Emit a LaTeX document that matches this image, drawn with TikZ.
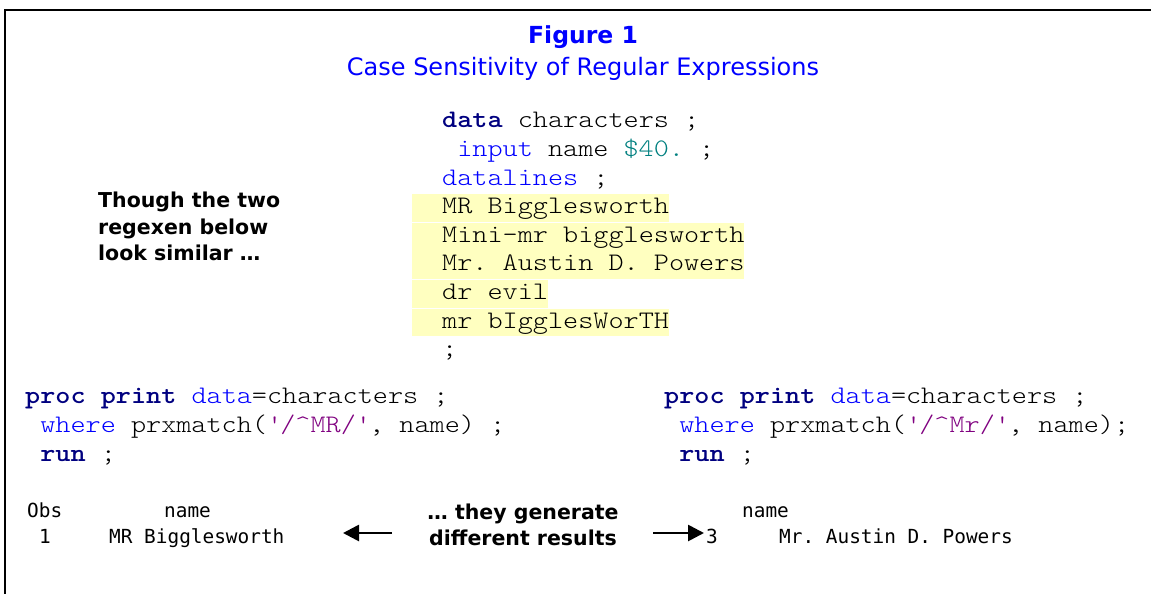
\documentclass[tikz,border=0pt]{standalone}
\usepackage{fontspec}
\setmainfont{DejaVu Sans}
\newfontfamily\codefont{lmmonolt10-regular}[Extension=.otf, BoldFont=lmmonolt10-bold, FakeStretch=1.142857]
\newfontfamily\outfont{DejaVu Sans Mono}
\usetikzlibrary{arrows.meta}
\definecolor{sasnavy}{HTML}{000080}
\definecolor{sasblue}{HTML}{0000FF}
\definecolor{sasteal}{HTML}{008080}
\definecolor{saspurple}{HTML}{800080}
\definecolor{hilite}{HTML}{FFFFC0}
\newcommand{\kw}[1]{\textcolor{sasnavy}{\bfseries #1}}
\newcommand{\bl}[1]{\textcolor{sasblue}{#1}}
\newcommand{\tl}[1]{\textcolor{sasteal}{#1}}
\newcommand{\pu}[1]{\textcolor{saspurple}{#1}}
\newcommand{\q}{\textquotesingle}
\frenchspacing
\begin{document}
\begin{tikzpicture}[x=1pt,y=-1pt,
  code/.style={anchor=base west, inner sep=0pt, font=\codefont\fontsize{25.2}{28}\selectfont},
  outtxt/.style={anchor=base west, inner sep=0pt, font=\outfont\fontsize{19.4}{24}\selectfont},
  note/.style={inner sep=0pt, font=\bfseries\fontsize{20.5}{26}\selectfont},
  hl/.style={fill=hilite, draw=none},
  frame/.style={line width=2.5pt, line cap=rect},
  resarrow/.style={line width=2.7pt, -{Triangle[length=16pt,width=16pt]}}
]
\useasboundingbox (0,0) rectangle (1151,594);
\fill[white] (0,0) rectangle (1151,594);
% frame
\draw[frame] (5,594) -- (5,10) -- (1151,10);
% titles
\node[anchor=base, inner sep=0pt, text=sasblue, font=\bfseries\fontsize{23.5}{28}\selectfont] (title) at (583,44) {Figure 1};
\node[anchor=base, inner sep=0pt, text=sasblue, font=\fontsize{24}{28}\selectfont] (subtitle) at (583,75) {Case Sensitivity of Regular Expressions};
% highlights
\fill[hl] (412,194.2) rectangle (668.8,222.0);
\fill[hl] (412,222.8) rectangle (744.4,250.6);
\fill[hl] (412,251.4) rectangle (744.4,279.2);
\fill[hl] (412,280.0) rectangle (547.8,307.8);
\fill[hl] (412,308.6) rectangle (668.8,336.4);
% data step
\node[code] (d1) at (442,127) {\kw{data} characters ;};
\node[code] (d2) at (457.1,156) {\bl{input} name \tl{\$40.} ;};
\node[code] (d3) at (442,185) {\bl{datalines} ;};
\node[code] (d4) at (442,213.5) {MR Bigglesworth};
\node[code] (d5) at (442,242) {Mini-mr bigglesworth};
\node[code] (d6) at (442,270.7) {Mr. Austin D. Powers};
\node[code] (d7) at (442,299.3) {dr evil};
\node[code] (d8) at (442,328) {mr bIgglesWorTH};
\node[code] (d9) at (442,356.5) {;};
% left note
\node[note, anchor=base west, align=left] (n1) at (98,260) {Though the two\\[0.5pt]regexen below\\[0pt]look similar \dots};
% left proc
\node[code] (p1) at (25,403) {\kw{proc print} \bl{data}=characters ;};
\node[code] (p2) at (40.1,432) {\bl{where} prxmatch(\pu{\q/\textasciicircum MR/\q}, name) ;};
\node[code] (p3) at (40.1,461) {\kw{run} ;};
% right proc
\node[code] (r1) at (664,403) {\kw{proc print} \bl{data}=characters ;};
\node[code] (r2) at (679.1,432) {\bl{where} prxmatch(\pu{\q/\textasciicircum Mr/\q}, name);};
\node[code] (r3) at (679.1,461) {\kw{run} ;};
% left output
\node[outtxt] (o1) at (27,517) {Obs};
\node[outtxt] (o2) at (164,517) {name};
\node[outtxt] (o3) at (39,543) {1};
\node[outtxt] (o4) at (109,543) {MR Bigglesworth};
% right output
\node[outtxt] (s1) at (742,517) {name};
\node[outtxt] (s2) at (706,543) {3};
\node[outtxt] (s3) at (779,543) {Mr. Austin D. Powers};
% middle note
\node[note, anchor=base, align=center] (m1) at (523,545) {\dots{} they generate\\[-0.5pt]different results};
% arrows
\coordinate (la) at (392,533);
\coordinate (lb) at (343,533);
\coordinate (ra) at (653,533);
\coordinate (rb) at (704,533);
\draw[resarrow] (la) -- (lb);
\draw[resarrow] (ra) -- (rb);
\end{tikzpicture}
\end{document}
